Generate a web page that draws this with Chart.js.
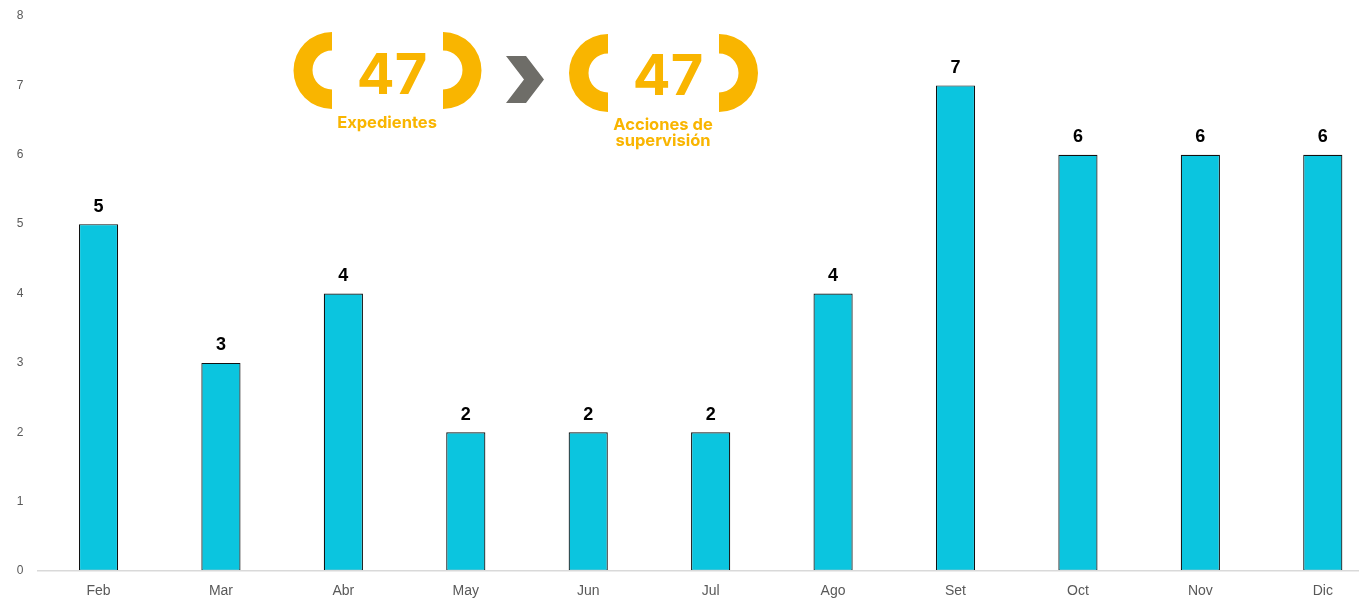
<!DOCTYPE html>
<html>
<head>
<meta charset="utf-8">
<script src="https://cdn.jsdelivr.net/npm/chart.js@4"></script>
<style>
    html, body { margin: 0; padding: 0; background: #fff; overflow: hidden; }
    #wrap { position: relative; width: 1384px; height: 600px; }
    #badge { position: absolute; left: 0; top: 0; }
</style>
</head>
<body>
<div id="wrap">
    <canvas id="chart"></canvas>
    <svg id="badge" width="800" height="160" xmlns="http://www.w3.org/2000/svg">
        <g fill="#F9B500">
            <!-- first pair of brackets -->
            <path d="M332,32 A38.5,38.5 0 0 0 332,109 L332,89.5 A19.5,19.5 0 0 1 332,50.5 Z"/>
            <path d="M443,32 A38.5,38.5 0 0 1 443,109 L443,89.5 A19.5,19.5 0 0 0 443,50.5 Z"/>
            <!-- second pair -->
            <path d="M608,34 A39,39 0 0 0 608,112 L608,92.5 A19.5,19.5 0 0 1 608,53.5 Z"/>
            <path d="M719,34 A39,39 0 0 1 719,112 L719,92.5 A19.5,19.5 0 0 0 719,53.5 Z"/>
        </g>
        <polygon points="506,56 526,56 544,79.5 526,103 506,103 524,79.5" fill="#6E6D68"/>
        <g fill="#F9B500" font-family="Inter, 'Noto Sans', sans-serif" font-weight="700" text-anchor="middle">
            <text x="392" y="94" font-size="56">47</text>
            <text x="668" y="95" font-size="56">47</text>
            <text x="387" y="128" font-size="16.5">Expedientes</text>
            <text x="663" y="130" font-size="16.5">Acciones de</text>
            <text x="663" y="146" font-size="16.5">supervisión</text>
        </g>
    </svg>
</div>
<script>
    const months = ['Feb', 'Mar', 'Abr', 'May', 'Jun', 'Jul', 'Ago', 'Set', 'Oct', 'Nov', 'Dic'];
    const cases = [5, 3, 4, 2, 2, 2, 4, 7, 6, 6, 6];
    const yTicks = [0, 1, 2, 3, 4, 5, 6, 7, 8];

    const barColor = '#0BC5DF';
    const axisTextColor = '#595959';

    // numbers above each bar
    const valueLabels = {
        id: 'valueLabels',
        afterDatasetsDraw(chart) {
            const ctx = chart.ctx;
            const meta = chart.getDatasetMeta(0);
            ctx.save();
            ctx.fillStyle = '#000';
            ctx.font = 'bold 18px "Liberation Sans", Arial, sans-serif';
            ctx.textAlign = 'center';
            ctx.textBaseline = 'alphabetic';
            meta.data.forEach(function(bar, i) {
                ctx.fillText(String(cases[i]), bar.x, bar.y - 12.5);
            });
            ctx.restore();
        }
    };

    new Chart(document.getElementById('chart'), {
        type: 'bar',
        data: {
            labels: months,
            datasets: [{
                data: cases,
                backgroundColor: barColor,
                borderColor: '#111',
                borderWidth: 1.2,
                borderSkipped: false,
                barPercentage: 0.32,
                categoryPercentage: 1
            }]
        },
        options: {
            responsive: true,
            maintainAspectRatio: false,
            animation: false,
            layout: { padding: 0 },
            plugins: {
                legend: { display: false },
                tooltip: { enabled: false }
            },
            scales: {
                x: {
                    grid: { display: false, drawTicks: false },
                    border: { display: true, color: '#D9D9D9', width: 1.5, z: 1 },
                    ticks: {
                        color: axisTextColor,
                        font: { family: '"Liberation Sans", Arial, sans-serif', size: 14 },
                        padding: 12,
                        maxRotation: 0
                    },
                    afterFit(scale) { scale.height = 29; }
                },
                y: {
                    min: 0,
                    max: 8,
                    afterBuildTicks(scale) {
                        scale.ticks = yTicks.map(v => ({ value: v }));
                    },
                    grid: { display: false, drawTicks: false },
                    border: { display: false },
                    ticks: {
                        color: axisTextColor,
                        // small lineHeight keeps the top overflow padding at ~16px
                        font: { family: '"Liberation Sans", Arial, sans-serif', size: 12, lineHeight: 0.34 },
                        padding: 14
                    },
                    afterFit(scale) { scale.width = 37.3; }
                }
            }
        },
        plugins: [valueLabels]
    });
</script>
</body>
</html>
